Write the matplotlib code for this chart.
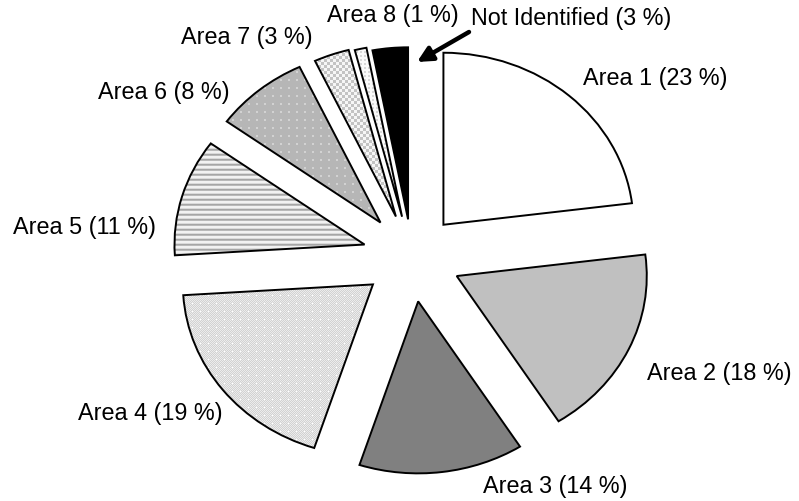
import numpy as np
import matplotlib
matplotlib.use("Agg")
import matplotlib.pyplot as plt

plt.rcParams['font.family'] = ['Liberation Sans', 'DejaVu Sans']

# ---- data ----
categories = ["Area 1", "Area 2", "Area 3", "Area 4", "Area 5",
              "Area 6", "Area 7", "Area 8", "Not Identified"]
shares = [23, 18, 14, 19, 11, 8, 3, 1, 3]

# ---- figure / canvas geometry (pixels) ----
W_PX, H_PX = 799, 502
SX = 1.105                     # horizontal stretch of the pie
CENTER_PX = (412, 258)
RADIUS = 172
# offset of each slice, as a fraction of the radius
explode_frac = [0.25, 0.26, 0.26, 0.26, 0.26, 0.26, 0.25, 0.24, 0.22]

# label anchors: left edge x, baseline y (pixels from top-left)
label_pos = [(583, 85), (647, 380), (483, 493), (78, 420), (13, 234),
             (98, 99), (181, 44), (327, 22), (471, 25)]

fig = plt.figure(figsize=(W_PX / 100, H_PX / 100), dpi=100)
ax = fig.add_axes([0, 0, 1, 1])
XMAX = W_PX / SX


def to_data(px, py):
    return px / SX, H_PX - py


wedges, _ = ax.pie(shares, explode=[f * RADIUS for f in explode_frac],
                   radius=RADIUS, center=to_data(*CENTER_PX), startangle=90,
                   counterclock=False, frame=True,
                   wedgeprops=dict(linewidth=1.4, edgecolor='black'))
ax.set_xlim(0, XMAX)
ax.set_ylim(0, H_PX)
ax.set_aspect('auto')
ax.axis('off')

# ---- fill textures ----
yy, xx = np.mgrid[0:H_PX, 0:W_PX]

# Area 4: fine light-gray checker with white specks
t4 = np.where((xx + yy) % 2 == 0, 0xD2, 0xEC).astype(float)
t4[(xx % 8 == 0) & (yy % 8 == 0)] = 0xFF
t4 = t4 / 255.0

# Area 5: horizontal stripes
stripe = np.array([0xA6, 0xBA, 0xF2, 0xF2, 0xDA], float)
t5 = stripe[yy % 5] / 255.0

# Area 6: mid gray with lighter dots
t6 = np.full((H_PX, W_PX), 0xB6 / 255.0)
t6[((xx % 8) < 2) & ((yy % 8) < 2)] = 0xD2 / 255.0

# Area 7: white with gray squares
t7 = np.where(((xx // 3) + (yy // 3)) % 2 == 0, 0xC4, 0xF6) / 255.0

# Area 8: white with faint dots
t8 = np.where(((xx % 4) < 2) & ((yy % 4) < 2), 0xD8, 0xFA) / 255.0

fills = {0: '#FFFFFF', 1: '#C0C0C0', 2: '#808080', 8: '#000000'}
textures = {3: t4, 4: t5, 5: t6, 6: t7, 7: t8}

for i, w in enumerate(wedges):
    if i in fills:
        w.set_facecolor(fills[i])
    else:
        w.set_facecolor('none')
        im = ax.imshow(textures[i], cmap='gray', vmin=0, vmax=1,
                       extent=(0, XMAX, 0, H_PX), origin='upper',
                       interpolation='nearest', aspect='auto', zorder=0.5)
        im.set_clip_path(w)

# ---- labels ----
for name, val, (lx, ly) in zip(categories, shares, label_pos):
    x, y = to_data(lx, ly)
    ax.text(x, y, f"{name} ({val} %)", fontsize=16.8, color='black',
            ha='left', va='baseline')

# arrow pointing at the "Not Identified" slice
ax.annotate('', xy=to_data(417, 63), xytext=to_data(469, 33),
            arrowprops=dict(arrowstyle='-|>,head_length=0.9,head_width=0.45',
                            lw=3.2, color='black', shrinkA=0, shrinkB=0))

fig.savefig("out.png", dpi=100, facecolor='white')
